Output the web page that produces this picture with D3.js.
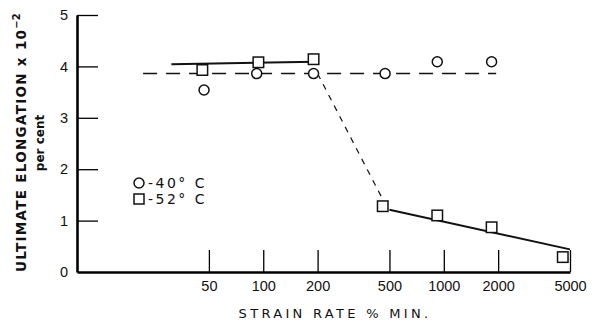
<!DOCTYPE html>
<html lang="en">
<head>
<meta charset="UTF-8">
<title>Ultimate elongation vs strain rate</title>
<script src="https://cdn.jsdelivr.net/npm/d3@7/dist/d3.min.js"></script>
<style>
body { margin: 0; background: #fff; }
svg { display: block; font-family: "DejaVu Sans", sans-serif; }
.axis text { font-size: 14.5px; fill: #111; }
</style>
</head>
<body>
<div id="chart"></div>
<script>
// values
const xTicks = [50, 100, 200, 500, 1000, 2000, 5000];
const yTicks = [0, 1, 2, 3, 4, 5];

// -40 C (circles)
const rate40 = [47, 92, 190, 473, 920, 1840];
const elong40 = [3.54, 3.86, 3.86, 3.86, 4.09, 4.09];
// -52 C (squares)
const rate52 = [46, 94, 190, 459, 920, 1840, 4560];
const elong52 = [3.93, 4.08, 4.14, 1.28, 1.10, 0.87, 0.29];

// fitted lines drawn on the figure
const fit40 = [[21.6, 3.86], [1950, 3.86]];
const fit52High = [[31, 4.04], [195, 4.09]];
const fit52Drop = [[200, 3.86], [480, 1.28]];
const fit52Low = [[500, 1.21], [5000, 0.44]];

const WIDTH = 596;
const HEIGHT = 326;

const x = d3.scaleLog().domain([9.3, 5000]).range([77, 570]);
const y = d3.scaleLinear().domain([0, 5]).range([272, 15]);

const svg = d3.select("#chart").append("svg")
    .attr("width", WIDTH)
    .attr("height", HEIGHT);

// axes with ticks pointing inwards
const xAxis = svg.append("g")
    .attr("class", "axis")
    .attr("transform", `translate(0,${y(0)})`)
    .call(d3.axisBottom(x).tickValues(xTicks).tickFormat(d3.format("d"))
        .tickSize(-22).tickSizeOuter(0).tickPadding(9));
xAxis.select(".domain").attr("stroke-width", 2.6);
xAxis.selectAll(".tick line").attr("stroke-width", 1.3);

const yAxis = svg.append("g")
    .attr("class", "axis")
    .attr("transform", `translate(${x.range()[0]},0)`)
    .call(d3.axisLeft(y).tickValues(yTicks).tickFormat(d3.format("d"))
        .tickSize(-21).tickSizeOuter(0).tickPadding(9));
yAxis.select(".domain").attr("stroke-width", 2.6);
yAxis.selectAll(".tick line").attr("stroke-width", 1.3);
yAxis.selectAll(".tick").filter(d => d === 0).select("line").remove();

const line = d3.line().x(d => x(d[0])).y(d => y(d[1]));

svg.append("path").datum(fit40).attr("d", line)
    .attr("fill", "none").attr("stroke", "#111").attr("stroke-width", 1.5)
    .attr("stroke-dasharray", "14,9");
svg.append("path").datum(fit52Drop).attr("d", line)
    .attr("fill", "none").attr("stroke", "#111").attr("stroke-width", 1.2)
    .attr("stroke-dasharray", "6,6");
svg.append("path").datum(fit52High).attr("d", line)
    .attr("fill", "none").attr("stroke", "#111").attr("stroke-width", 2);
svg.append("path").datum(fit52Low).attr("d", line)
    .attr("fill", "none").attr("stroke", "#111").attr("stroke-width", 2);

// markers
svg.append("g").selectAll("circle")
    .data(rate40.map((r, i) => [r, elong40[i]]))
    .join("circle")
    .attr("cx", d => x(d[0]))
    .attr("cy", d => y(d[1]))
    .attr("r", 5)
    .attr("fill", "#fff").attr("stroke", "#111").attr("stroke-width", 1.5);

const SQ = 10.5;
svg.append("g").selectAll("rect")
    .data(rate52.map((r, i) => [r, elong52[i]]))
    .join("rect")
    .attr("x", d => x(d[0]) - SQ / 2)
    .attr("y", d => y(d[1]) - SQ / 2)
    .attr("width", SQ).attr("height", SQ)
    .attr("fill", "#fff").attr("stroke", "#111").attr("stroke-width", 1.5);

// legend
const legend = svg.append("g").attr("transform", "translate(139,183)");
legend.append("circle").attr("r", 5).attr("fill", "#fff")
    .attr("stroke", "#111").attr("stroke-width", 1.5);
legend.append("rect").attr("x", -5).attr("y", 11).attr("width", 10).attr("height", 10)
    .attr("fill", "#fff").attr("stroke", "#111").attr("stroke-width", 1.5);
legend.selectAll("text")
    .data(["-40\u00b0 C", "-52\u00b0 C"])
    .join("text")
    .attr("x", 9)
    .attr("y", (d, i) => 5 + i * 16)
    .attr("font-size", 14)
    .attr("letter-spacing", 2.5)
    .attr("fill", "#111")
    .text(d => d);

// axis titles
svg.append("text")
    .attr("x", 335).attr("y", 318)
    .attr("text-anchor", "middle")
    .attr("font-size", 13)
    .attr("letter-spacing", 3.3)
    .attr("fill", "#111")
    .text("STRAIN RATE % MIN.");

const yTitle = svg.append("text")
    .attr("transform", "translate(26,272) rotate(-90)")
    .attr("text-anchor", "start")
    .attr("font-size", 13.5)
    .attr("font-weight", "bold")
    .attr("fill", "#111");
yTitle.append("tspan")
    .attr("textLength", 242)
    .attr("lengthAdjust", "spacing")
    .text("ULTIMATE ELONGATION x 10");
yTitle.append("tspan").attr("dy", -6).attr("font-size", 10).text("\u22122");

svg.append("text")
    .attr("transform", "translate(44,143) rotate(-90)")
    .attr("text-anchor", "middle")
    .attr("font-size", 12)
    .attr("font-weight", "bold")
    .attr("fill", "#111")
    .text("per cent");
</script>
</body>
</html>
